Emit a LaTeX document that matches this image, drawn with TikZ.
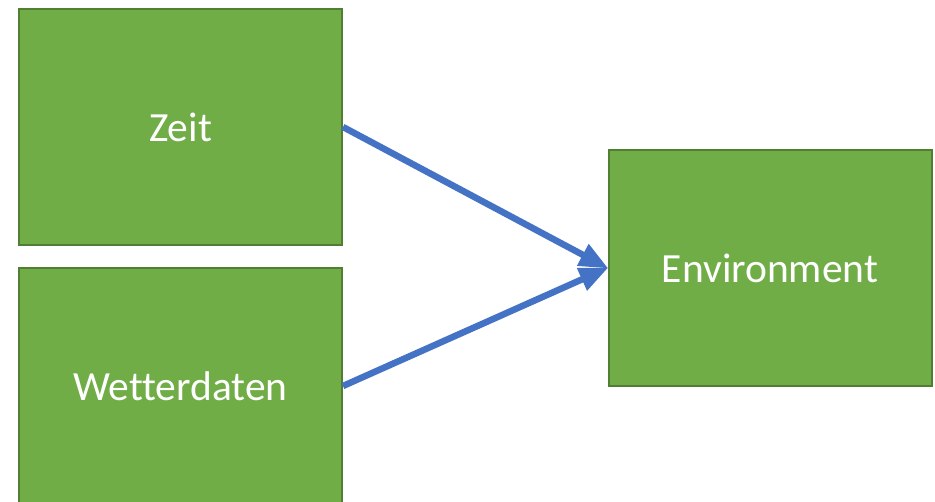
\documentclass[tikz,border=0pt]{standalone}
\usepackage{fontspec}
\setmainfont[Ligatures={NoCommon}]{Carlito}
\usetikzlibrary{arrows.meta}
\definecolor{boxfill}{HTML}{70AD47}
\definecolor{boxline}{HTML}{507E32}
\definecolor{arrowblue}{HTML}{4472C4}
\begin{document}
\begin{tikzpicture}[x=1pt,y=1pt,
  gbox/.style={draw=boxline, line width=2pt, fill=boxfill, minimum width=323pt, minimum height=236pt, inner sep=0pt, text=white, font=\fontsize{41.5}{50}\selectfont},
  conn/.style={draw=arrowblue, line width=6.5pt, -{Triangle[length=29pt 0,width=23pt 0]}, shorten >=-1pt}]
\useasboundingbox (0,0) rectangle (935,502);
\node[gbox] (zeit) at (180.5,375) {Zeit};
\node[gbox] (wetter) at (180.5,116) {Wetterdaten};
\node[gbox] (env) at (770,234) {Environment};
\draw[conn] (zeit.east) -- (env.west);
\draw[conn] (wetter.east) -- (env.west);
\end{tikzpicture}
\end{document}
